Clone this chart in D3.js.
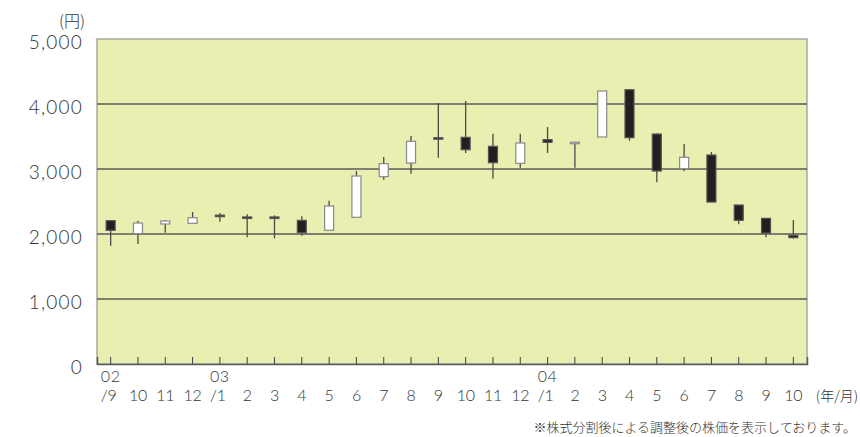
<!DOCTYPE html>
<html><head><meta charset="utf-8">
<script src="https://cdn.jsdelivr.net/npm/d3@7"></script>
<style>
html,body{margin:0;padding:0;background:#fff;}
svg{display:block;}
text{font-family:"Noto Sans CJK JP","Noto Sans",sans-serif;fill:#333;}
text.num{font-family:Lato,"Noto Sans",sans-serif;}
</style></head>
<body>
<svg id="c" width="860" height="437"></svg>
<script>
const yearLabels = ["02","","","","03","","","","","","","","","","","","04","","","","","","","","",""];
const monthLabels = ["/9","10","11","12","/1","2","3","4","5","6","7","8","9","10","11","12","/1","2","3","4","5","6","7","8","9","10"];
const opens  = [2205,2005,2154,2164,2290,2262,2262,2210,2057,2257,2882,3092,3482,3487,3349,3087,3451,3405,3492,4220,3538,3005,3215,2446,2241,1979];
const closes = [2057,2169,2200,2251,2280,2258,2241,2020,2431,2892,3082,3426,3478,3297,3097,3400,3410,3412,4200,3482,2969,3180,2492,2210,2015,1944];
const highs  = [2210,2205,2210,2338,2323,2303,2287,2272,2513,2969,3185,3508,4015,4046,3543,3543,3646,3420,4200,4220,3548,3385,3262,2446,2241,2215];
const lows   = [1820,1846,2020,2164,2190,1949,1933,1974,2057,2257,2836,2928,3174,3246,2851,3020,3246,3020,3492,3436,2795,2964,2492,2149,1949,1928];
const yTicks = [0,1000,2000,3000,4000,5000];

const svg = d3.select("#c");
const L=97, R=807, T=39, B=364;
const idx = d3.range(monthLabels.length);
const x = d3.scaleBand().domain(idx).range([L,R]).padding(0);
const y = d3.scaleLinear().domain([0,5000]).range([B,T]);

svg.append("rect").attr("x",L).attr("y",T).attr("width",R-L).attr("height",B-T)
  .attr("fill","#e9eeb1").attr("stroke","#a8a8a0").attr("stroke-width",1.5);

// grid
svg.append("g").selectAll("line").data(yTicks.filter(d=>d>0 && d<5000)).join("line")
  .attr("x1",L).attr("x2",R).attr("y1",d=>y(d)).attr("y2",d=>y(d))
  .attr("stroke","#5a5a5a").attr("stroke-width",1.3);

// y labels
svg.append("g").selectAll("text").data(yTicks).join("text").attr("class","num")
  .attr("x",83).attr("y",d=>y(d)+5).attr("text-anchor","end").attr("dominant-baseline","middle")
  .attr("font-size",19).attr("font-weight",300).attr("letter-spacing",1.2).text(d=>d3.format(",")(d));
svg.append("text").attr("x",72).attr("y",23).attr("text-anchor","middle").attr("dominant-baseline","middle")
  .attr("font-size",16).attr("font-weight",300).text("(円)");

// bottom axis
const xa = d3.axisBottom(x).tickSize(-7).tickFormat("");
const ga = svg.append("g").attr("transform",`translate(0,${B})`).call(xa);
ga.select(".domain").attr("stroke","#5a5a5a").attr("stroke-width",1.5);
ga.selectAll(".tick line").attr("stroke","#444").attr("stroke-width",1);

const cx = i => x(i)+x.bandwidth()/2;
svg.append("g").selectAll("text").data(idx.filter(i=>yearLabels[i])).join("text").attr("class","num")
  .attr("x",i=>cx(i)).attr("y",378).attr("text-anchor","middle").attr("dominant-baseline","middle")
  .attr("font-size",16).attr("font-weight",300).attr("letter-spacing",0.5).text(i=>yearLabels[i]);
svg.append("g").selectAll("text").data(idx).join("text").attr("class","num")
  .attr("x",i=>cx(i)-(monthLabels[i].startsWith("/")?2:0)).attr("y",397).attr("text-anchor","middle").attr("dominant-baseline","middle")
  .attr("font-size",16).attr("font-weight",300).attr("letter-spacing",-0.3).text(i=>monthLabels[i]);
svg.append("text").attr("x",837).attr("y",397).attr("text-anchor","middle").attr("dominant-baseline","middle")
  .attr("font-size",14).attr("font-weight",300).text("(年/月)");
svg.append("text").attr("x",856).attr("y",428).attr("text-anchor","end").attr("dominant-baseline","middle")
  .attr("font-size",13).attr("font-weight",300).text("※株式分割後による調整後の株価を表示しております。");

// candles
const bw = 9;
const g = svg.append("g");
g.selectAll("line.w").data(idx).join("line").attr("class","w")
  .attr("x1",i=>cx(i)).attr("x2",i=>cx(i)).attr("y1",i=>y(highs[i])).attr("y2",i=>y(lows[i]))
  .attr("stroke","#4a4a4a").attr("stroke-width",1.3);
g.selectAll("rect.b").data(idx).join("rect").attr("class","b")
  .attr("x",i=>cx(i)-bw/2).attr("width",bw)
  .attr("y",i=>y(Math.max(opens[i],closes[i])))
  .attr("height",i=>Math.max(1.5,Math.abs(y(opens[i])-y(closes[i]))))
  .attr("fill",i=>closes[i]>=opens[i]?"#ffffff":"#231f20")
  .attr("stroke",i=>closes[i]>=opens[i]?"#8a8a8a":"#555")
  .attr("stroke-width",1.2);
</script>
</body></html>
